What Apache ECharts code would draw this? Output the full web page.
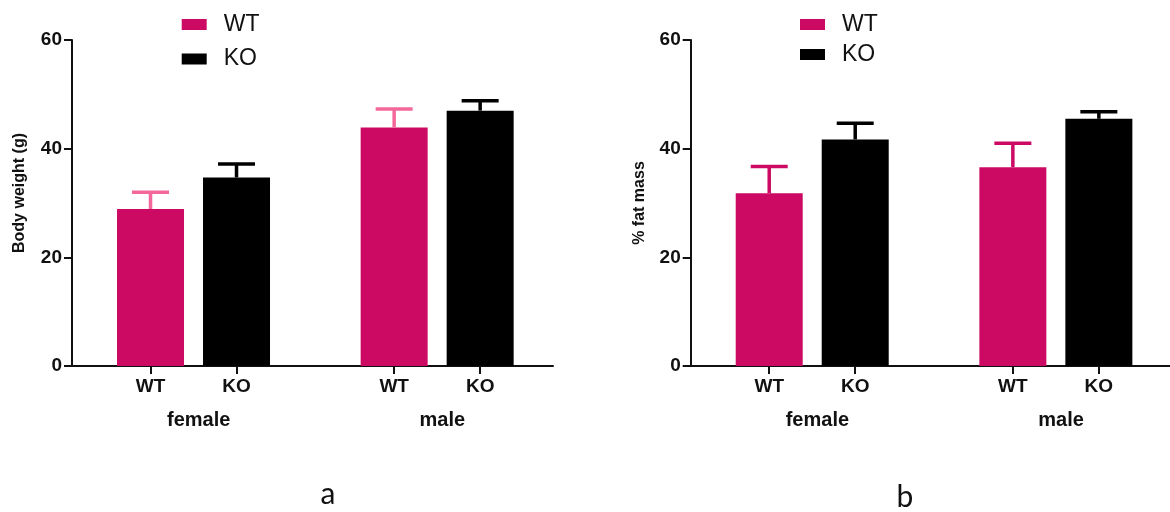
<!DOCTYPE html>
<html>
<head>
<meta charset="utf-8">
<script src="https://cdn.jsdelivr.net/npm/echarts@6/dist/echarts.min.js"></script>
<style>
html,body{margin:0;padding:0;background:#fff;}
#chart{width:1170px;height:512px;}
</style>
</head>
<body>
<div id="chart"></div>
<script>
// ---- data ----
const genotypes = ['WT', 'KO'];
const groups = ['female', 'male'];
const yTicks = [0, 20, 40, 60];

const bodyWT = [28.9, 43.9];
const bodyWTErr = [3.1, 3.4];
const bodyKO = [34.7, 47.0];
const bodyKOErr = [2.5, 1.8];

const fatWT = [31.8, 36.6];
const fatWTErr = [4.9, 4.4];
const fatKO = [41.7, 45.5];
const fatKOErr = [3.0, 1.3];

const panelLabels = ['a', 'b'];
const yNames = ['Body weight (g)', '% fat mass'];

// ---- layout helpers ----
const GROUP_STEP = 2.833;
const PX_PER_UNIT = 86;
const slot = (g, i) => +(g * GROUP_STEP + i).toFixed(3);
const tickVals = [];
const tickNames = {};
groups.forEach((g, gi) => genotypes.forEach((c, ci) => { const v = slot(gi, ci); tickVals.push(v); tickNames[v.toFixed(3)] = c; }));
const groupVals = groups.map((g, gi) => +(slot(gi, 0) + 0.5 + 0.06).toFixed(3));
const groupNames = {};
groupVals.forEach((v, i) => groupNames[v.toFixed(3)] = groups[i]);

const PINK = '#CD0A63';
const LIGHT_PINK = '#F4679A';
const FONT = 'Liberation Sans';

const grids = [
  { left: 72, top: 40, width: 481, height: 326 },
  { left: 690.7, top: 40, width: 479.3, height: 326 }
];
const XMIN = -0.913;

function xAxesFor(gi) {
  const max = XMIN + grids[gi].width / PX_PER_UNIT;
  return [
    {
      type: 'value', gridIndex: gi, min: XMIN, max: max, position: 'bottom',
      splitLine: { show: false },
      axisLine: { show: true, onZero: false, lineStyle: { color: '#111', width: 2 } },
      axisTick: { show: true, customValues: tickVals, length: 8, lineStyle: { color: '#111', width: 2 } },
      axisLabel: {
        customValues: tickVals, margin: 11,
        formatter: v => tickNames[(+v).toFixed(3)] || '',
        fontFamily: FONT, fontWeight: 'bold', fontSize: 19, color: '#111'
      }
    },
    {
      type: 'value', gridIndex: gi, min: XMIN, max: max, position: 'bottom', offset: 0,
      splitLine: { show: false },
      axisLine: { show: false, onZero: false }, axisTick: { show: false },
      axisLabel: {
        customValues: groupVals, margin: 44,
        formatter: v => groupNames[(+v).toFixed(3)] || '',
        fontFamily: FONT, fontWeight: 'bold', fontSize: 20, color: '#111'
      }
    }
  ];
}

function yAxisFor(gi) {
  return {
    type: 'value', gridIndex: gi, min: 0, max: 60, interval: 20, position: 'left',
    name: yNames[gi], nameLocation: 'middle', nameGap: gi === 0 ? 44 : 43,
    nameTextStyle: {
      fontFamily: FONT, fontWeight: 'bold', fontSize: 16, color: '#111',
      padding: gi === 0 ? [0, 0, 0, 20] : [0, 0, 0, 0]
    },
    splitLine: { show: false },
    axisLine: { show: true, onZero: false, lineStyle: { color: '#111', width: 2 } },
    axisTick: { show: true, length: 8, lineStyle: { color: '#111', width: 2 } },
    axisLabel: {
      margin: 10, fontFamily: FONT, fontWeight: 'bold', fontSize: 19, color: '#111'
    }
  };
}

function barSeries(name, gi, vals, color, ci) {
  return {
    name: name, type: 'bar', xAxisIndex: gi * 2, yAxisIndex: gi,
    barWidth: 67, barGap: '-100%',
    itemStyle: { color: color },
    data: vals.map((v, g) => [slot(g, ci), v]),
    silent: true
  };
}

function errSeries(gi, vals, errs, color, ci) {
  return {
    type: 'custom', xAxisIndex: gi * 2, yAxisIndex: gi,
    encode: { x: 0, y: 1 },
    data: vals.map((v, g) => [slot(g, ci), v, errs[g]]),
    z: 3, silent: true,
    renderItem: function (params, api) {
      const x = api.value(0), y = api.value(1), e = api.value(2);
      const p0 = api.coord([x, y]);
      const p1 = api.coord([x, y + e]);
      const hw = 18.5;
      return {
        type: 'group',
        children: [
          { type: 'line', shape: { x1: p0[0], y1: p0[1], x2: p1[0], y2: p1[1] }, style: { stroke: color, lineWidth: 3.5 } },
          { type: 'line', shape: { x1: p1[0] - hw, y1: p1[1], x2: p1[0] + hw, y2: p1[1] }, style: { stroke: color, lineWidth: 3.5 } }
        ]
      };
    }
  };
}

function legendFor(left, top, gap) {
  return {
    orient: 'vertical', left: left, top: top, itemGap: gap,
    itemWidth: 25, itemHeight: 11, icon: 'rect',
    data: genotypes,
    selectedMode: false,
    textStyle: { fontFamily: FONT, fontSize: 23, color: '#111', lineHeight: 23, padding: [0, 0, 0, 12] }
  };
}

const chart = echarts.init(document.getElementById('chart'), null, { renderer: 'canvas' });
chart.setOption({
  animation: false,
  backgroundColor: '#fff',
  grid: grids,
  legend: [legendFor(176.7, 8, 11.5), legendFor(795, 8, 7)],
  xAxis: [...xAxesFor(0), ...xAxesFor(1)],
  yAxis: [yAxisFor(0), yAxisFor(1)],
  graphic: [
    { type: 'text', x: 328, y: 494, style: { text: panelLabels[0], font: '30px Lato', fill: '#111', textAlign: 'center', textVerticalAlign: 'middle' } },
    { type: 'text', x: 905, y: 497, style: { text: panelLabels[1], font: '30px Lato', fill: '#111', textAlign: 'center', textVerticalAlign: 'middle' } }
  ],
  series: [
    barSeries('WT', 0, bodyWT, PINK, 0),
    barSeries('KO', 0, bodyKO, '#000', 1),
    errSeries(0, bodyWT, bodyWTErr, LIGHT_PINK, 0),
    errSeries(0, bodyKO, bodyKOErr, '#000', 1),
    barSeries('WT', 1, fatWT, PINK, 0),
    barSeries('KO', 1, fatKO, '#000', 1),
    errSeries(1, fatWT, fatWTErr, PINK, 0),
    errSeries(1, fatKO, fatKOErr, '#000', 1)
  ]
});
</script>
</body>
</html>
